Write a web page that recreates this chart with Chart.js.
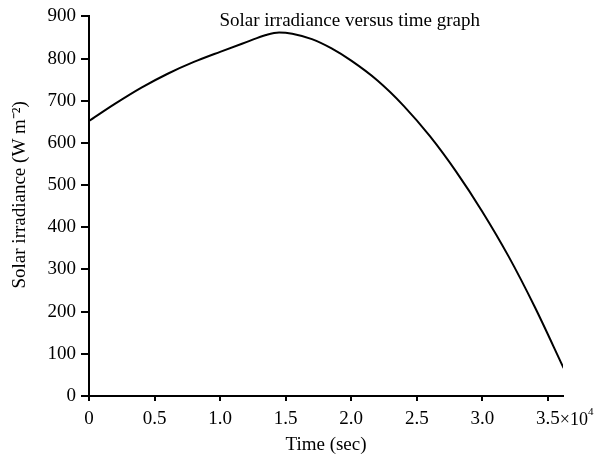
<!DOCTYPE html>
<html>
<head>
<meta charset="utf-8">
<script src="https://cdn.jsdelivr.net/npm/chart.js@4/dist/chart.umd.min.js"></script>
<style>
html,body{margin:0;padding:0;background:#fff;}
#wrap{width:597px;height:456px;}
</style>
</head>
<body>
<div id="wrap"><canvas id="c" width="597" height="456"></canvas></div>
<script>
const chartTitle = "Solar irradiance versus time graph";
const xAxisTitle = "Time (sec)";
const yAxisTitle = "Solar irradiance (W m\u207B\u00B2)";
const timeSec = [0, 2000, 4000, 6000, 8000, 10000, 12000, 13500, 14500, 15500, 17000, 18500, 20000, 22000, 24000, 26000, 28000, 30000, 32000, 34000, 36200];
const irradiance = [652, 693, 731, 764, 792, 816, 839, 856, 862, 859, 846, 824, 795, 748, 688, 616, 532, 437, 331, 211, 66];
const xTickValues = [0, 5000, 10000, 15000, 20000, 25000, 30000, 35000];
const xTickLabels = ["0", "0.5", "1.0", "1.5", "2.0", "2.5", "3.0", "3.5"];
const xExponentBase = "\u00D710";
const xExponent = "4";

const points = timeSec.map((t, i) => ({x: t, y: irradiance[i]}));
const FONT = "'Liberation Serif', 'Times New Roman', serif";
const FS = 19;

const textPlugin = {
  id: 'extraText',
  afterDraw(chart) {
    const ctx = chart.ctx;
    const a = chart.chartArea;
    const xs = chart.scales.x;
    ctx.save();
    ctx.fillStyle = "#000";
    ctx.font = FS + "px " + FONT;
    ctx.textAlign = "center";
    ctx.textBaseline = "middle";
    ctx.fillText(chartTitle, a.left + (a.right - a.left) * 0.55, a.top + 5);
    ctx.save();
    ctx.translate(20, a.top + (a.bottom - a.top) * 0.47);
    ctx.rotate(-Math.PI / 2);
    ctx.fillText(yAxisTitle, 0, 0);
    ctx.restore();
    const lastVal = xTickValues[xTickValues.length - 1];
    const px = xs.getPixelForValue(lastVal);
    const lw = ctx.measureText(xTickLabels[xTickLabels.length - 1]).width;
    const baseX = px + lw / 2;
    const labelMid = a.bottom + 24;
    ctx.textAlign = "left";
    ctx.font = "18px " + FONT;
    ctx.fillText(xExponentBase, baseX, labelMid);
    const bw = ctx.measureText(xExponentBase).width;
    ctx.font = "11px " + FONT;
    ctx.fillText(xExponent, baseX + bw, labelMid - 8);
    ctx.restore();
  }
};

new Chart(document.getElementById('c'), {
  type: 'line',
  data: {
    datasets: [{
      data: points,
      borderColor: '#000',
      borderWidth: 2,
      pointRadius: 0,
      fill: false,
      cubicInterpolationMode: 'monotone'
    }]
  },
  options: {
    responsive: false,
    animation: false,
    devicePixelRatio: 1,
    layout: {padding: {top: 4, right: 34, bottom: 0, left: 0}},
    plugins: {legend: {display: false}, tooltip: {enabled: false}},
    scales: {
      x: {
        type: 'linear',
        min: 0,
        max: 36150,
        afterBuildTicks(scale) { scale.ticks = xTickValues.map(v => ({value: v})); },
        afterFit(scale) { scale.height = 60; },
        ticks: {
          color: '#000',
          font: {family: FONT, size: FS},
          padding: 7,
          maxRotation: 0,
          autoSkip: false,
          callback(v) { const i = xTickValues.indexOf(v); return i >= 0 ? xTickLabels[i] : ''; }
        },
        grid: {drawOnChartArea: false, drawTicks: true, tickLength: 5, color: '#000', lineWidth: 2},
        border: {display: true, color: '#000', width: 2},
        title: {display: true, text: xAxisTitle, color: '#000', font: {family: FONT, size: FS}, padding: {top: 0, bottom: 0}}
      },
      y: {
        min: 0,
        max: 900,
        afterFit(scale) { scale.width = 89; },
        ticks: {
          stepSize: 100,
          color: '#000',
          font: {family: FONT, size: FS},
          padding: 5
        },
        grid: {drawOnChartArea: false, drawTicks: true, tickLength: 8, color: '#000', lineWidth: 2},
        border: {display: true, color: '#000', width: 2},
        title: {display: false}
      }
    }
  },
  plugins: [textPlugin]
});
</script>
</body>
</html>
